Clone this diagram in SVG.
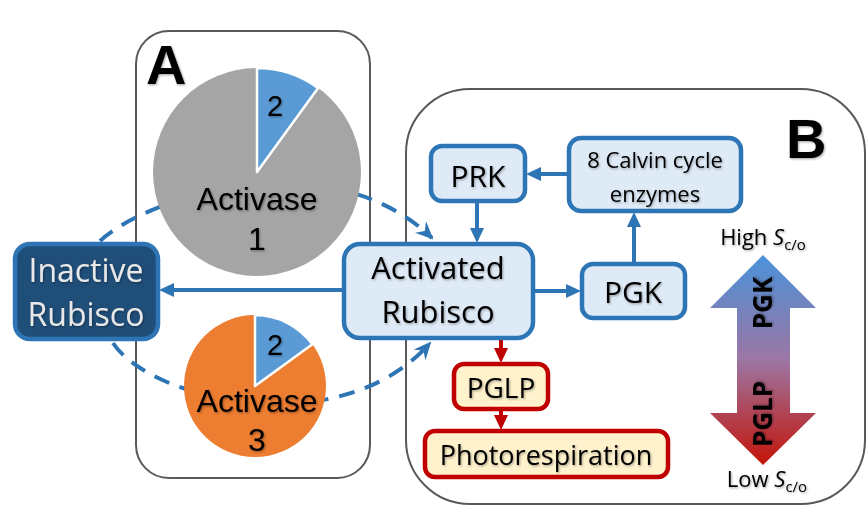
<svg xmlns="http://www.w3.org/2000/svg" width="868" height="517" viewBox="0 0 868 517">
<defs>
<style>
.panel{fill:#fff;stroke:#595959;stroke-width:2}
.node{fill:#DEEBF7;stroke:#2E75B6;stroke-width:4.5}
.rnode{fill:#FFF2CC;stroke:#C00000;stroke-width:4.5}
.t{font-family:"Open Sans","Noto Sans",sans-serif;fill:#000;text-anchor:middle;filter:url(#sh)}
.pt{font-family:"Liberation Sans",Arial,sans-serif;fill:#000;text-anchor:middle;filter:url(#sh)}
.lbl{font-family:"Liberation Sans",Arial,sans-serif;font-weight:bold;fill:#000;filter:url(#sh)}
.c{fill:none;stroke:#2E75B6;stroke-width:4}
.cr{fill:none;stroke:#C00000;stroke-width:4}
.d{fill:none;stroke:#2E75B6;stroke-width:4;stroke-dasharray:16 11}
.sep{stroke:#fff;stroke-width:2.5;stroke-linejoin:round}
</style>
<filter id="sh" x="-10%" y="-20%" width="130%" height="150%">
<feDropShadow dx="1" dy="1.2" stdDeviation="1" flood-color="#000" flood-opacity="0.35"/>
</filter>
<marker id="ab" markerWidth="15" markerHeight="14" refX="10" refY="7" orient="auto" markerUnits="userSpaceOnUse">
<path d="M0,0 L15,7 L0,14 z" fill="#2E75B6"/>
</marker>
<marker id="ar" markerWidth="15" markerHeight="14" refX="10" refY="7" orient="auto" markerUnits="userSpaceOnUse">
<path d="M0,0 L15,7 L0,14 z" fill="#C00000"/>
</marker>
<marker id="ad" markerWidth="18" markerHeight="16" refX="16" refY="8" orient="auto" markerUnits="userSpaceOnUse">
<path d="M0,0 L18,8 L0,16 L6,8 z" fill="#2E75B6"/>
</marker>
<linearGradient id="gr" x1="0" y1="0" x2="0" y2="1">
<stop offset="0" stop-color="#4A92DA"/>
<stop offset="0.5" stop-color="#9C76A4"/>
<stop offset="1" stop-color="#C41408"/>
</linearGradient>
</defs>
<rect width="868" height="517" fill="#fff"/>

<g id="panelA">
<rect class="panel" x="136" y="31" width="234" height="447" rx="33"/>
<text class="lbl" x="146" y="84" font-size="56">A</text>
</g>
<g id="panelB">
<rect class="panel" x="406" y="89" width="459" height="415" rx="64"/>
<text class="lbl" x="786" y="158" font-size="56">B</text>
</g>

<g id="connectors">
<path class="d" d="M100,241 C150,195 330,140 432,238" marker-end="url(#ad)"/>
<path class="d" d="M113,343 C150,400 340,445 430,343" marker-end="url(#ad)"/>
<line class="c" x1="342" y1="290" x2="164" y2="290" marker-end="url(#ab)"/>
<line class="c" x1="477" y1="203" x2="477" y2="238" marker-end="url(#ab)"/>
<line class="c" x1="567" y1="174" x2="531" y2="174" marker-end="url(#ab)"/>
<line class="c" x1="535" y1="291" x2="576" y2="291" marker-end="url(#ab)"/>
<line class="c" x1="634" y1="262" x2="634" y2="217" marker-end="url(#ab)"/>
<line class="cr" x1="501" y1="340" x2="501" y2="358" marker-end="url(#ar)"/>
<line class="cr" x1="501" y1="411" x2="501" y2="425" marker-end="url(#ar)"/>
</g>

<g id="pie1">
<circle cx="257" cy="172" r="104" fill="#A5A5A5"/>
<path d="M257,172 L257,68 A104,104 0 0 1 318.1,87.9 z" fill="#5B9BD5" class="sep"/>
<text class="pt" x="275" y="116" font-size="29">2</text>
<text class="pt" x="257" y="210" font-size="32">Activase</text>
<text class="pt" x="257" y="250" font-size="32">1</text>
</g>

<g id="pie3">
<circle cx="255" cy="386" r="71" fill="#ED7D31"/>
<path d="M255,386 L255,315 A71,71 0 0 1 312.4,344.3 z" fill="#5B9BD5" class="sep"/>
<text class="pt" x="275" y="355" font-size="29">2</text>
<text class="pt" x="257" y="412" font-size="32">Activase</text>
<text class="pt" x="257" y="451" font-size="32">3</text>
</g>

<g id="inactive">
<rect x="15" y="244" width="143" height="95" rx="15" fill="#1F4E79" stroke="#2E75B6" stroke-width="4.5"/>
<text class="t" x="86" y="282" font-size="32" style="fill:#E8E8E8">Inactive</text>
<text class="t" x="86" y="326" font-size="32" style="fill:#E8E8E8">Rubisco</text>
</g>

<g id="activated">
<rect class="node" x="344" y="244" width="189" height="94" rx="16"/>
<text class="t" x="438" y="279" font-size="31">Activated</text>
<text class="t" x="438" y="323" font-size="31">Rubisco</text>
</g>

<g id="prk">
<rect class="node" x="431" y="146" width="94" height="55" rx="11"/>
<text class="t" x="478" y="187" font-size="30">PRK</text>
</g>

<g id="calvin">
<rect class="node" x="569" y="138" width="172" height="73" rx="12"/>
<text class="t" x="655" y="168" font-size="22">8 Calvin cycle</text>
<text class="t" x="655" y="202" font-size="22">enzymes</text>
</g>

<g id="pgk">
<rect class="node" x="582" y="264" width="103" height="54" rx="11"/>
<text class="t" x="633" y="303" font-size="30">PGK</text>
</g>

<g id="pglp">
<rect class="rnode" x="454" y="364" width="94" height="45" rx="10"/>
<text class="t" x="501" y="398" font-size="28">PGLP</text>
</g>

<g id="photo">
<rect class="rnode" x="425" y="431" width="243" height="46" rx="10"/>
<text class="t" x="546" y="465" font-size="27">Photorespiration</text>
</g>

<g id="scale">
<text class="t" x="763" y="245" font-size="22">High <tspan font-style="italic">S</tspan><tspan font-size="15" dy="5">c/o</tspan></text>
<polygon points="763,255 816,308 790,308 790,413 816,413 763,465 710,413 737,413 737,308 710,308" fill="url(#gr)"/>
<text class="t" font-size="26" font-weight="bold" transform="translate(772,303) rotate(-90)">PGK</text>
<text class="t" font-size="26" font-weight="bold" transform="translate(772,414) rotate(-90)">PGLP</text>
<text class="t" x="767" y="487" font-size="22">Low <tspan font-style="italic">S</tspan><tspan font-size="15" dy="5">c/o</tspan></text>
</g>
</svg>
